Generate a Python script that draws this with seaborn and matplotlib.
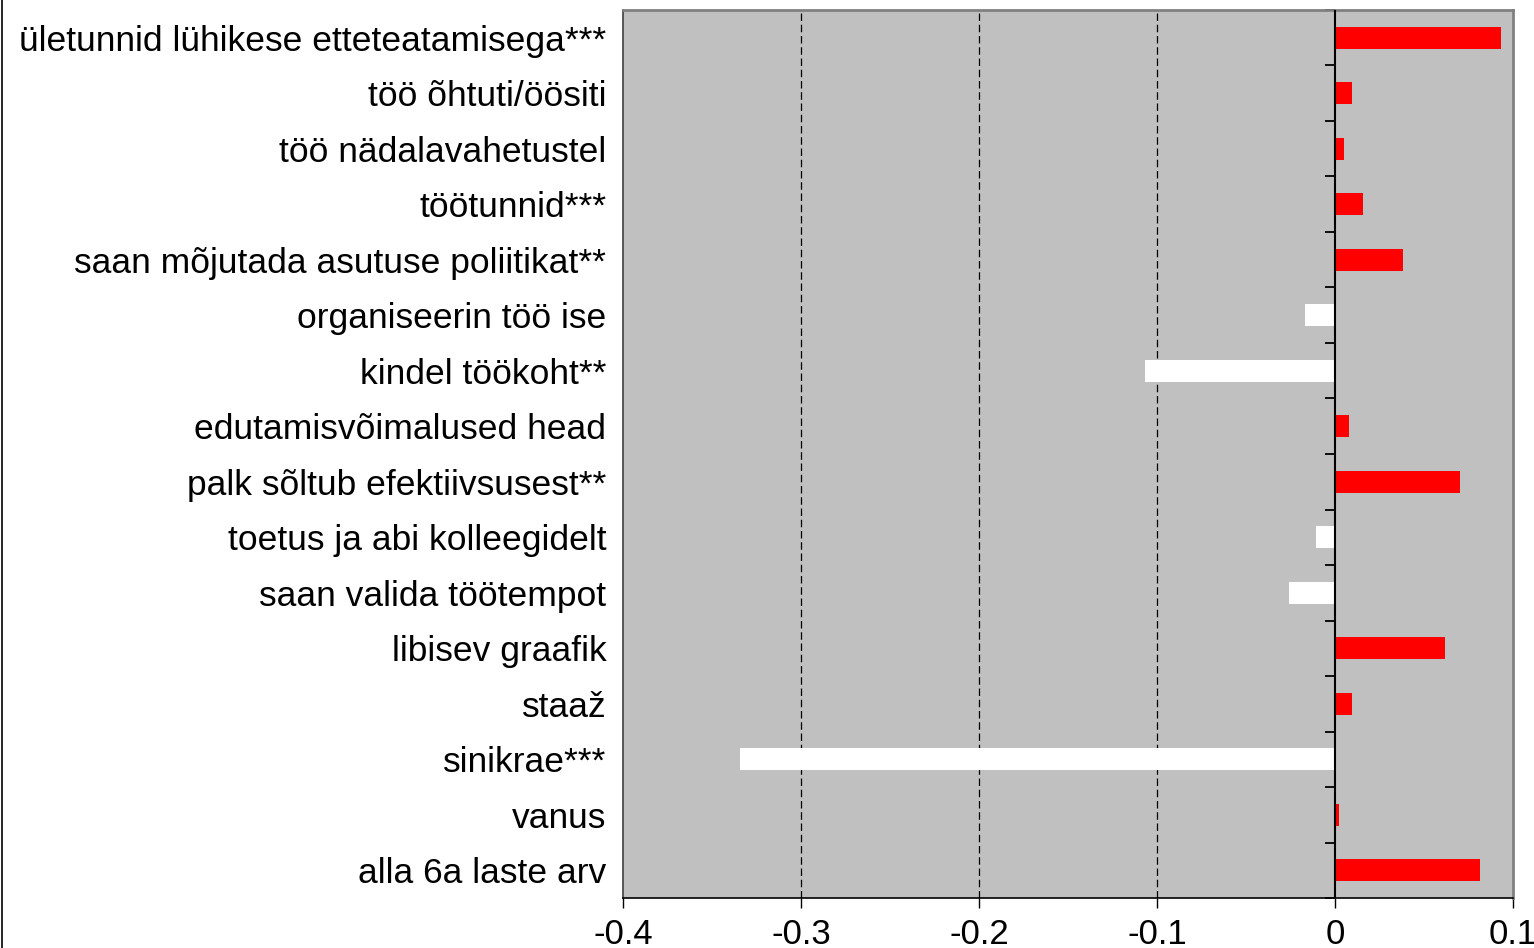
import pandas as pd
import matplotlib.pyplot as plt
import seaborn as sns

# Data: estimated effects, top to bottom as in the chart
labels = [
    "ületunnid lühikese etteteatamisega***",
    "töö õhtuti/öösiti",
    "töö nädalavahetustel",
    "töötunnid***",
    "saan mõjutada asutuse poliitikat**",
    "organiseerin töö ise",
    "kindel töökoht**",
    "edutamisvõimalused head",
    "palk sõltub efektiivsusest**",
    "toetus ja abi kolleegidelt",
    "saan valida töötempot",
    "libisev graafik",
    "staaž",
    "sinikrae***",
    "vanus",
    "alla 6a laste arv",
]
values = [0.093, 0.0093, 0.0053, 0.016, 0.038, -0.0166, -0.1065, 0.0081,
          0.070, -0.0104, -0.0256, 0.062, 0.0093, -0.334, 0.002, 0.0817]
x_ticks = [-0.4, -0.3, -0.2, -0.1, 0, 0.1]
x_tick_labels = ["-0.4", "-0.3", "-0.2", "-0.1", "0", "0.1"]

df = pd.DataFrame({"label": labels, "value": values})
df["sign"] = ["pos" if v >= 0 else "neg" for v in df["value"]]

sns.set_theme(style="white")
plt.rcParams["font.family"] = ["Liberation Sans", "DejaVu Sans"]

fig = plt.figure(figsize=(15.34, 9.48), dpi=100)
ax = fig.add_axes([0.4061, 0.0527, 0.5802, 0.9368])
ax.set_facecolor("#C0C0C0")

sns.barplot(data=df, x="value", y="label", hue="sign", order=labels,
            palette={"pos": "#FF0000", "neg": "#FFFFFF"}, dodge=False,
            width=0.4, linewidth=0, saturation=1, legend=False, ax=ax)

ax.set_xlim(-0.4, 0.1)
ax.set_ylim(len(labels) - 0.5, -0.5)
ax.set_xticks(x_ticks)
ax.set_xticklabels(x_tick_labels)
ax.set_xlabel("")
ax.set_ylabel("")

# dashed gridlines
for xv in x_ticks[1:4]:
    ax.axvline(xv, color="black", linestyle=(0, (6, 3)), linewidth=0.9, zorder=0.5)

# zero axis line with category boundary ticks
ax.axvline(0, color="black", linewidth=1.5, zorder=3)
sec = ax.secondary_yaxis(0.8)
sec.set_yticks([i - 0.5 for i in range(len(labels) + 1)])
sec.set_yticklabels([])
sec.tick_params(axis="y", which="both", length=7.5, width=1.3, direction="out",
                color="black", left=True, right=False)
sec.spines["left"].set_color("black")
sec.spines["left"].set_linewidth(1.5)

ax.tick_params(axis="y", length=0, pad=12, labelsize=25.5, labelcolor="black")
ax.tick_params(axis="x", length=7.5, width=1.0, direction="out", bottom=True,
               pad=7, labelsize=25, labelcolor="black", color="black")

for side in ["top", "right"]:
    ax.spines[side].set_color("#808080")
    ax.spines[side].set_linewidth(2)
ax.spines["left"].set_color("#404040")
ax.spines["left"].set_linewidth(1.2)
ax.spines["bottom"].set_color("black")
ax.spines["bottom"].set_linewidth(1.2)

fig.add_artist(plt.Line2D([0.0016, 0.0016], [0, 1], color="black", linewidth=1.2))

fig.savefig("out.png", dpi=100)
